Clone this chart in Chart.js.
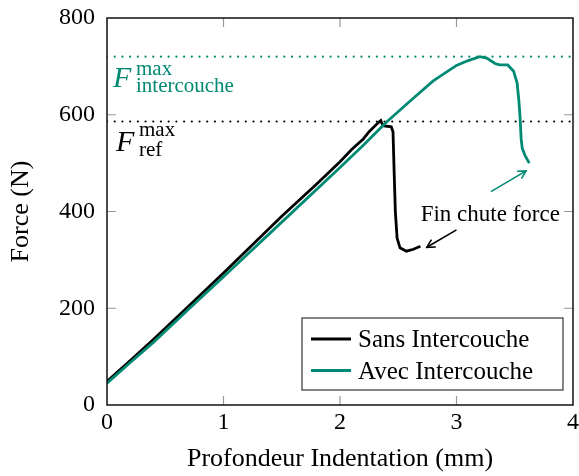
<!DOCTYPE html>
<html>
<head>
<meta charset="utf-8">
<script src="https://cdn.jsdelivr.net/npm/chart.js@4.4.0/dist/chart.umd.min.js"></script>
<style>
  html, body { margin: 0; padding: 0; background: #fff; }
</style>
</head>
<body>
<canvas id="chart" width="579" height="476"></canvas>
<script>
// courbe sans intercouche
const sansX = [0, 0.2, 0.4, 0.7, 1.0, 1.5, 1.8, 2.0, 2.1, 2.2, 2.25, 2.3, 2.33, 2.35, 2.36, 2.38, 2.44, 2.455, 2.465, 2.475, 2.49, 2.515, 2.57, 2.63, 2.69];
const sansY = [49, 92, 136, 204, 273, 390, 457, 503, 528, 550, 565, 577, 584, 588, 582, 577, 575, 565, 480, 400, 345, 325, 318, 322, 328];
// courbe avec intercouche
const avecX = [0, 0.2, 0.4, 0.7, 1.0, 1.5, 2.0, 2.2, 2.4, 2.6, 2.8, 3.0, 3.1, 3.2, 3.26, 3.33, 3.37, 3.44, 3.49, 3.52, 3.535, 3.545, 3.555, 3.565, 3.59, 3.625];
const avecY = [45, 88, 130, 198, 265, 378, 491, 537, 585, 628, 670, 702, 712, 720, 717, 706, 703, 703, 690, 666, 630, 597, 550, 530, 515, 500];

const F_INTER = 720;
const F_REF = 586;
const xTicks = [0, 1, 2, 3, 4];
const yTicks = [0, 200, 400, 600, 800];

const TEAL = "#008a74";
const SERIF = '"Liberation Serif", "DejaVu Serif", serif';

function pts(xs, ys) {
  return xs.map((v, i) => ({ x: v, y: ys[i] }));
}

// cadre + graduations vers l'intérieur
const framePlugin = {
  id: "frame",
  afterDraw(chart) {
    const { ctx, chartArea: a, scales } = chart;
    ctx.save();
    ctx.strokeStyle = "#999";
    ctx.lineWidth = 1.2;
    const len = 9;
    xTicks.slice(1, -1).forEach((v) => {
      const px = scales.x.getPixelForValue(v);
      ctx.beginPath();
      ctx.moveTo(px, a.bottom); ctx.lineTo(px, a.bottom - len);
      ctx.moveTo(px, a.top); ctx.lineTo(px, a.top + len);
      ctx.stroke();
    });
    yTicks.slice(1, -1).forEach((v) => {
      const py = scales.y.getPixelForValue(v);
      ctx.beginPath();
      ctx.moveTo(a.left, py); ctx.lineTo(a.left + len, py);
      ctx.moveTo(a.right, py); ctx.lineTo(a.right - len, py);
      ctx.stroke();
    });
    ctx.strokeStyle = "#111";
    ctx.lineWidth = 1.5;
    ctx.strokeRect(a.left, a.top, a.right - a.left, a.bottom - a.top);
    ctx.restore();
  },
};

function arrow(ctx, x1, y1, x2, y2, color) {
  const ang = Math.atan2(y2 - y1, x2 - x1);
  ctx.strokeStyle = color;
  ctx.lineWidth = 1.6;
  ctx.beginPath();
  ctx.moveTo(x1, y1); ctx.lineTo(x2, y2);
  ctx.stroke();
  ctx.beginPath();
  ctx.moveTo(x2 - 9 * Math.cos(ang - 0.5), y2 - 9 * Math.sin(ang - 0.5));
  ctx.lineTo(x2, y2);
  ctx.lineTo(x2 - 9 * Math.cos(ang + 0.5), y2 - 9 * Math.sin(ang + 0.5));
  ctx.stroke();
}

// étiquettes F max, annotation, légende
const annotPlugin = {
  id: "annot",
  afterDraw(chart) {
    const { ctx, chartArea: a, scales: { x, y } } = chart;
    ctx.save();
    ctx.textAlign = "left";
    ctx.textBaseline = "alphabetic";

    // F intercouche
    let by = y.getPixelForValue(F_INTER) + 30;
    ctx.fillStyle = TEAL;
    ctx.font = "italic 30px " + SERIF;
    ctx.fillText("F", a.left + 6, by);
    ctx.font = "21px " + SERIF;
    ctx.fillText("max", a.left + 29, by - 12);
    ctx.fillText("intercouche", a.left + 29, by + 5);

    // F ref
    by = y.getPixelForValue(F_REF) + 29;
    ctx.fillStyle = "#000";
    ctx.font = "italic 30px " + SERIF;
    ctx.fillText("F", a.left + 9, by);
    ctx.font = "21px " + SERIF;
    ctx.fillText("max", a.left + 32, by - 15);
    ctx.fillText("ref", a.left + 32, by + 5);

    // annotation
    ctx.font = "23px " + SERIF;
    ctx.textAlign = "center";
    ctx.fillText("Fin chute force", x.getPixelForValue(3.29), y.getPixelForValue(381));
    arrow(ctx, x.getPixelForValue(3.0), y.getPixelForValue(362), x.getPixelForValue(2.745), y.getPixelForValue(326), "#000");
    arrow(ctx, x.getPixelForValue(3.296), y.getPixelForValue(441), x.getPixelForValue(3.597), y.getPixelForValue(484), TEAL);

    // légende
    const bx = 302, bw = 261, btop = 318, bh = 72;
    ctx.fillStyle = "#fff";
    ctx.fillRect(bx, btop, bw, bh);
    ctx.strokeStyle = "#444";
    ctx.lineWidth = 1.3;
    ctx.strokeRect(bx, btop, bw, bh);
    const items = chart.data.datasets.filter((d) => d.inLegend).sort((p, q) => p.legendIdx - q.legendIdx);
    ctx.textAlign = "left";
    ctx.font = "25px " + SERIF;
    items.forEach((d, i) => {
      const ly = btop + 21 + i * 31.5;
      ctx.strokeStyle = d.borderColor;
      ctx.lineWidth = 3;
      ctx.beginPath();
      ctx.moveTo(bx + 9, ly); ctx.lineTo(bx + 49, ly);
      ctx.stroke();
      ctx.fillStyle = "#000";
      ctx.fillText(d.label, bx + 56, ly + 8);
    });
    ctx.restore();
  },
};

new Chart(document.getElementById("chart"), {
  type: "line",
  data: {
    datasets: [
      {
        label: "Avec Intercouche",
        data: pts(avecX, avecY),
        borderColor: TEAL,
        borderWidth: 2.8,
        inLegend: true, legendIdx: 1,
        order: 0,
      },
      {
        label: "Sans Intercouche",
        data: pts(sansX, sansY),
        borderColor: "#000",
        borderWidth: 2.8,
        inLegend: true, legendIdx: 0,
        order: 1,
      },
      {
        label: "F inter",
        data: [{ x: xTicks[0], y: F_INTER }, { x: xTicks[xTicks.length - 1], y: F_INTER }],
        borderColor: TEAL,
        borderWidth: 2.2,
        borderDash: [0.01, 7.7],
        borderCapStyle: "round",
        order: 2,
      },
      {
        label: "F ref",
        data: [{ x: xTicks[0], y: F_REF }, { x: xTicks[xTicks.length - 1], y: F_REF }],
        borderColor: "#000",
        borderWidth: 2.2,
        borderDash: [0.01, 7.7],
        borderCapStyle: "round",
        order: 3,
      },
    ],
  },
  options: {
    responsive: false,
    animation: false,
    devicePixelRatio: 1,
    elements: { point: { radius: 0 }, line: { tension: 0 } },
    layout: { padding: { top: 18, right: 6, left: 0, bottom: 0 } },
    plugins: { legend: { display: false }, tooltip: { enabled: false } },
    scales: {
      x: {
        type: "linear",
        min: xTicks[0],
        max: xTicks[xTicks.length - 1],
        afterBuildTicks: (s) => { s.ticks = xTicks.map((v) => ({ value: v })); },
        afterFit: (s) => { s.height = 71; s.paddingLeft = 0; s.paddingRight = 0; },
        grid: { display: false, drawTicks: false },
        border: { display: false },
        ticks: { color: "#000", font: { family: SERIF, size: 24 }, padding: 3 },
        title: { display: true, text: "Profondeur Indentation (mm)", color: "#000", font: { family: SERIF, size: 26 }, padding: { top: 0, bottom: 1 } },
      },
      y: {
        min: yTicks[0],
        max: yTicks[yTicks.length - 1],
        afterBuildTicks: (s) => { s.ticks = yTicks.map((v) => ({ value: v })); },
        afterFit: (s) => { s.width = 107; s.paddingTop = 0; s.paddingBottom = 0; },
        grid: { display: false, drawTicks: false },
        border: { display: false },
        ticks: { color: "#000", font: { family: SERIF, size: 24 }, padding: 12 },
        title: { display: true, text: "Force (N)", color: "#000", font: { family: SERIF, size: 26 }, padding: { top: 6, bottom: 0 } },
      },
    },
  },
  plugins: [framePlugin, annotPlugin],
});
</script>
</body>
</html>
